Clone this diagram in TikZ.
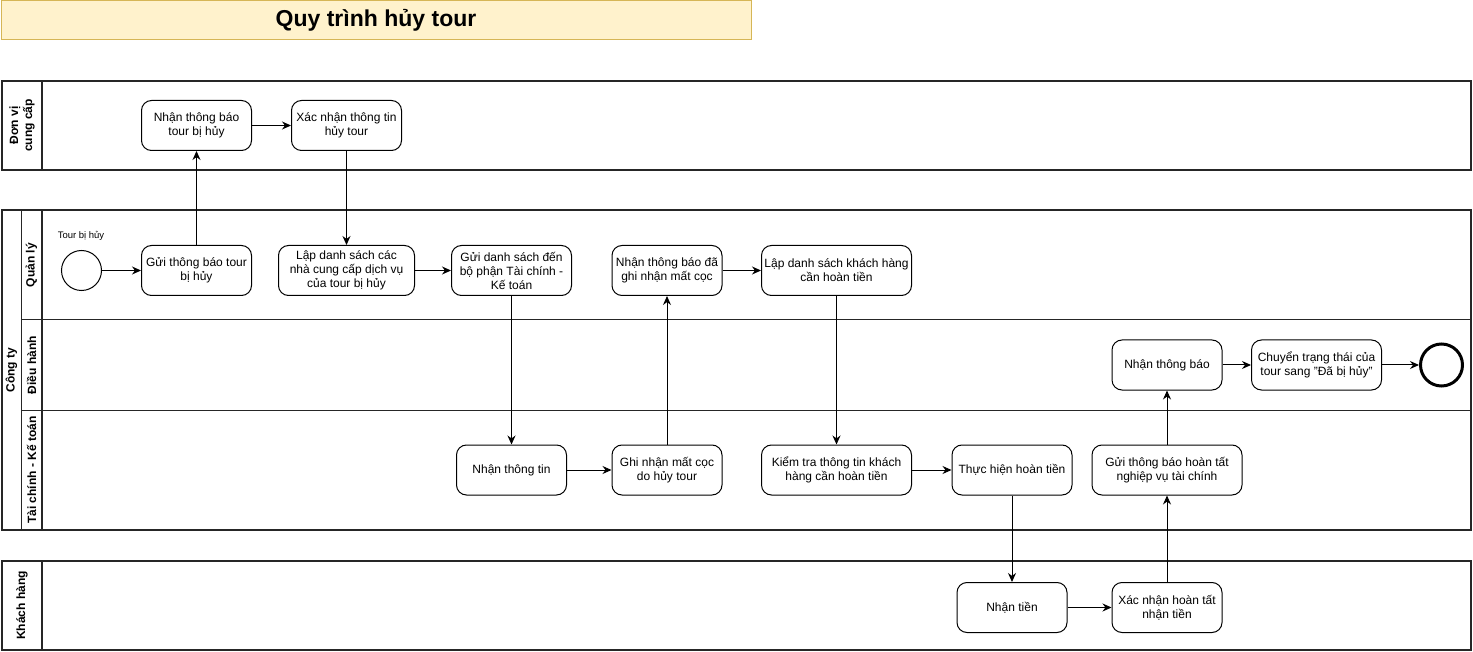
\documentclass[tikz,border=0pt]{standalone}
\usepackage{fontspec}
\setmainfont{Liberation Sans}
\usetikzlibrary{arrows.meta}
\definecolor{titlefill}{HTML}{FFF2CC}
\definecolor{titleline}{HTML}{D6B656}
\tikzset{
  task/.style={draw=black, line width=1pt, rounded corners=10pt, minimum height=50pt,
    align=center, font=\fontsize{12}{14}\selectfont, inner sep=2pt, fill=white},
  flow/.style={draw=black, line width=1pt, -{Stealth[length=9pt,width=8pt]}},
  pool/.style={draw=black!85, line width=2pt},
  laneline/.style={draw=black!85, line width=1pt},
  lanetitle/.style={rotate=90, font=\bfseries\fontsize{12}{14}\selectfont, align=center, inner sep=0pt},
  startev/.style={circle, draw=black, line width=1pt, minimum size=40pt, inner sep=0pt, fill=white},
  endev/.style={circle, draw=black, line width=3pt, minimum size=40pt, inner sep=0pt, fill=white},
}
\begin{document}
\begin{tikzpicture}[x=1pt,y=-1pt]
\useasboundingbox (0,0) rectangle (1473,652);

% title
\node[draw=titleline, fill=titlefill, line width=1pt, minimum width=750pt, minimum height=39pt,
  inner sep=0pt, font=\bfseries\fontsize{23}{27}\selectfont] (title) at (376,20.5) {Quy trình hủy tour};

% pool 1: Don vi cung cap
\draw[pool] (2,81) rectangle (1471,170);
\draw[pool] (42,81) -- (42,170);
\node[lanetitle] (lbl1) at (22,125.5) {Đơn vị\\cung cấp};

% pool 2: Cong ty
\draw[pool] (2,210) rectangle (1471,530);
\draw[laneline] (21,210) -- (21,530);
\draw[pool] (42,210) -- (42,530);
\draw[laneline] (21,320) -- (1471,320);
\draw[laneline] (21,410) -- (1471,410);
\node[lanetitle] (lbl2) at (11.5,370) {Công ty};
\node[lanetitle] (lbl3) at (31.5,265) {Quản lý};
\node[lanetitle] (lbl4) at (31.5,365) {Điều hành};
\node[lanetitle] (lbl5) at (31.5,470) {Tài chính - Kế toán};

% pool 3: Khach hang
\draw[pool] (2,561) rectangle (1471,650);
\draw[pool] (42,561) -- (42,650);
\node[lanetitle] (lbl6) at (22,605.5) {Khách hàng};

% Don vi cung cap row
\node[task, minimum width=110pt] (n1) at (196.5,125.5) {Nhận thông báo\\tour bị hủy};
\node[task, minimum width=110pt] (n2) at (346.5,125.5) {Xác nhận thông tin\\hủy tour};

% Quan ly row
\node[startev] (start) at (81.5,270.5) {};
\node[font=\fontsize{9.5}{11}\selectfont, inner sep=0pt] (startlbl) at (81,235.5) {Tour bị hủy};
\node[task, minimum width=110pt] (q1) at (196.5,270.5) {Gửi thông báo tour\\bị hủy};
\node[task, minimum width=136pt] (q2) at (346.5,270.5) {Lập danh sách các\\nhà cung cấp dịch vụ\\của tour bị hủy};
\node[task, minimum width=120pt] (q3) at (511.5,270.5) {Gửi danh sách đến\\bộ phận Tài chính -\\Kế toán};
\node[task, minimum width=110pt] (q4) at (667,270.5) {Nhận thông báo đã\\ghi nhận mất cọc};
\node[task, minimum width=150pt] (q5) at (836.5,270.5) {Lập danh sách khách hàng\\cần hoàn tiền};

% Dieu hanh row
\node[task, minimum width=110pt] (d1) at (1167,365) {Nhận thông báo};
\node[task, minimum width=130pt] (d2) at (1316.5,365) {Chuyển trạng thái của\\tour sang "Đã bị hủy"};
\node[endev, minimum size=42pt] (end) at (1441.5,365) {};

% Tai chinh - Ke toan row
\node[task, minimum width=110pt] (t1) at (511.5,470) {Nhận thông tin};
\node[task, minimum width=110pt] (t2) at (667,470) {Ghi nhận mất cọc\\do hủy tour};
\node[task, minimum width=150pt] (t3) at (836.5,470) {Kiểm tra thông tin khách\\hàng cần hoàn tiền};
\node[task, minimum width=120pt] (t4) at (1012,470) {Thực hiện hoàn tiền};
\node[task, minimum width=150pt] (t5) at (1167,470) {Gửi thông báo hoàn tất\\nghiệp vụ tài chính};

% Khach hang row
\node[task, minimum width=110pt] (k1) at (1012,607.5) {Nhận tiền};
\node[task, minimum width=110pt] (k2) at (1167,607.5) {Xác nhận hoàn tất\\nhận tiền};

% flows
\draw[flow] (start) -- (q1);
\draw[flow] (q1) -- (n1);
\draw[flow] (n1) -- (n2);
\draw[flow] (n2) -- (q2);
\draw[flow] (q2) -- (q3);
\draw[flow] (q3) -- (t1);
\draw[flow] (t1) -- (t2);
\draw[flow] (t2) -- (q4);
\draw[flow] (q4) -- (q5);
\draw[flow] (q5) -- (t3);
\draw[flow] (t3) -- (t4);
\draw[flow] (t4) -- (k1);
\draw[flow] (k1) -- (k2);
\draw[flow] (k2) -- (t5);
\draw[flow] (t5) -- (d1);
\draw[flow] (d1) -- (d2);
\draw[flow] (d2) -- (end);
\end{tikzpicture}
\end{document}
